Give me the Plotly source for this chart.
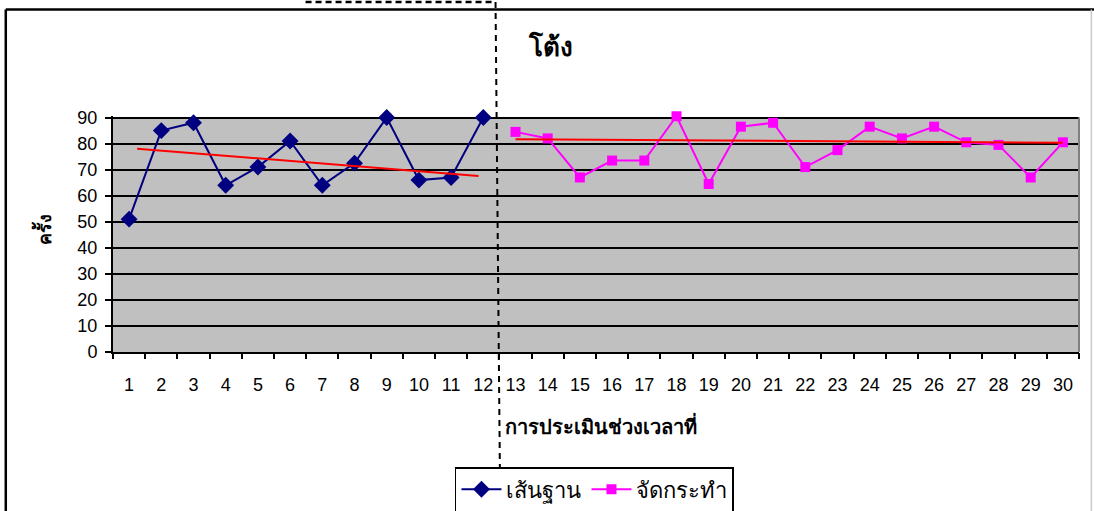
import plotly.graph_objects as go

# Session numbers and scores
baseline_x = list(range(1, 13))
baseline_y = [51, 85, 88, 64, 71, 81, 64, 72.5, 90, 66, 67, 90]

treatment_x = list(range(13, 31))
treatment_y = [84.5, 82, 67, 73.5, 73.5, 90.5, 64.5, 86.5, 88, 71, 77.5,
               86.5, 82, 86.5, 80.5, 79.5, 67, 80.5]

# Trend lines for each phase (end points)
baseline_trend_x = [1.25, 11.85]
baseline_trend_y = [78, 67.6]
treatment_trend_x = [13, 30]
treatment_trend_y = [81.7, 80.3]

tick_labels = [str(i) for i in range(1, 31)]
y_ticks = list(range(0, 91, 10))

FONT = "Liberation Sans, Arial, Tahoma, sans-serif"

fig = go.Figure()

fig.add_trace(go.Scatter(
    x=baseline_x, y=baseline_y, mode="lines+markers", name="เส้นฐาน",
    line=dict(color="#000080", width=2),
    marker=dict(symbol="diamond", size=13, color="#000080"),
    cliponaxis=False,
))
fig.add_trace(go.Scatter(
    x=treatment_x, y=treatment_y, mode="lines+markers", name="จัดกระทำ",
    line=dict(color="#FF00FF", width=2),
    marker=dict(symbol="square", size=10, color="#FF00FF"),
    cliponaxis=False,
))
fig.add_trace(go.Scatter(
    x=baseline_trend_x, y=baseline_trend_y, mode="lines", showlegend=False,
    line=dict(color="#FF0000", width=2), hoverinfo="skip",
))
fig.add_trace(go.Scatter(
    x=treatment_trend_x, y=treatment_trend_y, mode="lines", showlegend=False,
    line=dict(color="#FF0000", width=2), hoverinfo="skip",
))
# invisible trace carrying the boundary tick marks axis
fig.add_trace(go.Scatter(x=[0.5, 30.5], y=[0, 0], xaxis="x2", mode="none",
                         showlegend=False, hoverinfo="skip"))

Y_TOP = 90.6

fig.update_layout(
    width=1094, height=511,
    margin=dict(l=113, r=15, t=116, b=159, autoexpand=False),
    paper_bgcolor="white",
    plot_bgcolor="#C0C0C0",
    font=dict(family=FONT, size=18, color="black"),
    showlegend=True,
    legend=dict(
        orientation="h", xref="container", yref="container",
        x=0.5434, xanchor="center", y=1 - 467 / 511, yanchor="top",
        bordercolor="black", borderwidth=1.5, bgcolor="white",
        font=dict(size=22), itemwidth=40, tracegroupgap=0,
    ),
    xaxis=dict(
        range=[0.5, 30.5], tickmode="array", tickvals=baseline_x + treatment_x,
        ticktext=tick_labels, ticks="", showgrid=False, zeroline=False,
        showline=True, linecolor="black", linewidth=2, automargin=False,
        tickfont=dict(size=18), ticklabelstandoff=15,
    ),
    xaxis2=dict(
        range=[0.5, 30.5], overlaying="x", side="bottom", tickmode="array",
        tickvals=[i + 0.5 for i in range(0, 31)], ticks="outside",
        ticklen=6, tickwidth=1.5, tickcolor="black", showticklabels=False,
        showgrid=False, zeroline=False, showline=False, automargin=False,
    ),
    yaxis=dict(
        range=[0, Y_TOP], tickmode="array", tickvals=y_ticks, ticks="outside",
        ticklen=6, tickwidth=1.5, tickcolor="black",
        showgrid=True, gridcolor="black", gridwidth=1.5, zeroline=False,
        showline=True, linecolor="black", linewidth=2, automargin=False,
        tickfont=dict(size=18), ticklabelstandoff=4,
    ),
)

# plot area border (top and right, grey) at the 90 level
fig.add_shape(type="line", xref="paper", yref="y", x0=0, x1=1, y0=90, y1=90,
              line=dict(color="#808080", width=2.5), layer="below")
fig.add_shape(type="line", xref="paper", yref="y", x0=1, x1=1, y0=0, y1=90,
              line=dict(color="#808080", width=2))
# white strip above the 90 line
fig.add_shape(type="rect", xref="paper", yref="y", x0=0, x1=1, y0=90.15, y1=Y_TOP,
              line=dict(width=0), fillcolor="white", layer="below")

# outer chart frame
fig.add_shape(type="line", xref="paper", yref="paper",
              x0=-0.111, x1=1.02, y0=1.451, y1=1.451,
              line=dict(color="black", width=2.5))
fig.add_shape(type="line", xref="paper", yref="paper",
              x0=-0.111, x1=-0.111, y0=1.451, y1=-0.72,
              line=dict(color="black", width=2.5))
fig.add_shape(type="line", xref="paper", yref="paper",
              x0=1.0128, x1=1.0128, y0=1.451, y1=-0.72,
              line=dict(color="#C8C8C8", width=1.5))

# phase change line (dashed) with its top arm
fig.add_shape(type="line", xref="x", yref="paper",
              x0=12.38, x1=12.53, y0=1.483, y1=-0.72,
              line=dict(color="black", width=2, dash="6px,5px"))
fig.add_shape(type="line", xref="x", yref="paper",
              x0=6.48, x1=12.38, y0=1.483, y1=1.483,
              line=dict(color="black", width=2.5, dash="6px,4px"))

# titles
fig.add_annotation(text="<b>โต้ง</b>", xref="paper", yref="paper",
                   x=0.453, y=1.295, xanchor="center", yanchor="middle",
                   showarrow=False, font=dict(size=26, family=FONT))
fig.add_annotation(text="<b>การประเมินช่วงเวลาที่</b>", xref="paper", yref="paper",
                   x=0.505, y=-0.31, xanchor="center", yanchor="middle",
                   showarrow=False, font=dict(size=20, family=FONT))
fig.add_annotation(text="<b>ครั้ง</b>", xref="paper", yref="paper",
                   x=-0.072, y=0.52, xanchor="center", yanchor="middle",
                   showarrow=False, textangle=-90,
                   font=dict(size=18, family=FONT))

fig.write_html("out.html")
